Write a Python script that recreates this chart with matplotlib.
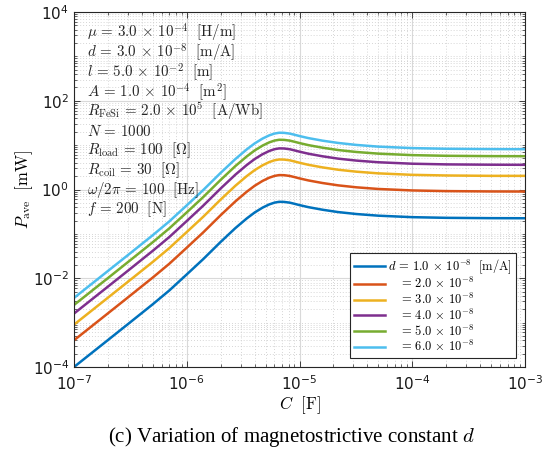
import numpy as np
import matplotlib
matplotlib.use("Agg")
import matplotlib.pyplot as plt
from matplotlib.ticker import LogLocator, NullFormatter, FixedLocator

plt.rcParams['mathtext.fontset'] = 'cm'
plt.rcParams['font.family'] = ['DejaVu Sans']

# Capacitance values [F]
C = [1e-7, 2e-7, 3e-7, 5e-7, 7e-7, 1e-6, 1.4e-6, 2e-6, 2.7e-6, 3.4e-6, 4e-6,
     4.7e-6, 5.4e-6, 6e-6, 6.6e-6, 7.3e-6, 8.2e-6, 9e-6, 1e-5, 1.2e-5, 1.6e-5,
     2.2e-5, 3.2e-5, 5e-5, 1e-4, 2e-4, 5e-4, 1e-3]

# Average power [mW] for each magnetostrictive constant d
P_d1 = [1.0e-4, 4.05e-4, 9.2e-4, 2.6e-3, 5.3e-3, 1.22e-2, 2.7e-2, 6.6e-2, 0.135,
        0.222, 0.303, 0.39, 0.462, 0.506, 0.528, 0.525, 0.505, 0.477, 0.445, 0.40,
        0.35, 0.31, 0.28, 0.257, 0.238, 0.23, 0.226, 0.225]
P_d2 = [4.0e-4, 1.62e-3, 3.68e-3, 1.04e-2, 2.12e-2, 4.88e-2, 0.108, 0.264, 0.54,
        0.888, 1.212, 1.56, 1.848, 2.024, 2.112, 2.10, 2.02, 1.908, 1.78, 1.60,
        1.40, 1.24, 1.12, 1.028, 0.952, 0.92, 0.904, 0.90]
P_d3 = [9.0e-4, 3.65e-3, 8.28e-3, 2.34e-2, 4.77e-2, 0.110, 0.243, 0.594, 1.215,
        1.998, 2.727, 3.51, 4.158, 4.554, 4.752, 4.725, 4.545, 4.293, 4.005, 3.60,
        3.15, 2.79, 2.52, 2.31, 2.14, 2.07, 2.03, 2.03]
P_d4 = [1.6e-3, 6.48e-3, 1.47e-2, 4.16e-2, 8.48e-2, 0.195, 0.432, 1.056, 2.16,
        3.552, 4.848, 6.24, 7.392, 8.096, 8.448, 8.40, 8.08, 7.632, 7.12, 6.40,
        5.60, 4.96, 4.48, 4.11, 3.81, 3.68, 3.62, 3.60]
P_d5 = [2.5e-3, 1.01e-2, 2.3e-2, 6.5e-2, 0.133, 0.305, 0.675, 1.65, 3.375,
        5.55, 7.575, 9.75, 11.55, 12.65, 13.2, 13.125, 12.625, 11.925, 11.125, 10.0,
        8.75, 7.75, 7.0, 6.43, 5.95, 5.75, 5.65, 5.63]
P_d6 = [3.6e-3, 1.46e-2, 3.31e-2, 9.36e-2, 0.191, 0.439, 0.972, 2.376, 4.86,
        7.99, 10.91, 14.04, 16.63, 18.22, 19.01, 18.9, 18.18, 17.17, 16.02, 14.4,
        12.6, 11.2, 10.1, 9.25, 8.57, 8.28, 8.14, 8.1]

series = [P_d1, P_d2, P_d3, P_d4, P_d5, P_d6]
labels = [r'$d\,=\,1.0\,\times\,10^{-8}\ \ \mathrm{[m/A]}$',
          r'$\ \ \ =\,2.0\,\times\,10^{-8}$',
          r'$\ \ \ =\,3.0\,\times\,10^{-8}$',
          r'$\ \ \ =\,4.0\,\times\,10^{-8}$',
          r'$\ \ \ =\,5.0\,\times\,10^{-8}$',
          r'$\ \ \ =\,6.0\,\times\,10^{-8}$']
colors = ['#0072BD', '#D95319', '#EDB120', '#7E2F8E', '#77AC30', '#4DBEEE']

params = [r'$\mu\,=\,3.0\,\times\,10^{-4}\ \ \mathrm{[H/m]}$',
          r'$d\,=\,3.0\,\times\,10^{-8}\ \ \mathrm{[m/A]}$',
          r'$l\,=\,5.0\,\times\,10^{-2}\ \ \mathrm{[m]}$',
          r'$A\,=\,1.0\,\times\,10^{-4}\ \ \mathrm{[m^2]}$',
          r'$R_{\mathrm{FeSi}}\,=\,2.0\,\times\,10^{5}\ \ \mathrm{[A/Wb]}$',
          r'$N\,=\,1000$',
          r'$R_{\mathrm{load}}\,=\,100\ \ [\Omega]$',
          r'$R_{\mathrm{coil}}\,=\,30\ \ [\Omega]$',
          r'$\omega/2\pi\,=\,100\ \ \mathrm{[Hz]}$',
          r'$f\,=\,200\ \ \mathrm{[N]}$']

W, H = 559, 451
fig = plt.figure(figsize=(W / 100, H / 100), dpi=100)
ax = fig.add_axes([74 / W, 1 - 367 / H, (525 - 74) / W, (367 - 12) / H])

for P, lab, col in zip(series, labels, colors):
    ax.plot(C, P, color=col, lw=1.8, label=lab)

ax.set_xscale('log')
ax.set_yscale('log')
ax.set_xlim(1e-7, 1e-3)
ax.set_ylim(1e-4, 1e4)
ax.yaxis.set_major_locator(FixedLocator([1e-4, 1e-2, 1e0, 1e2, 1e4]))
ax.yaxis.set_minor_locator(LogLocator(base=10, subs=np.arange(1, 10), numticks=40))
ax.xaxis.set_minor_locator(LogLocator(base=10, subs=np.arange(2, 10), numticks=40))
ax.yaxis.set_minor_formatter(NullFormatter())
ax.xaxis.set_minor_formatter(NullFormatter())

ax.grid(True, which='major', color='#d9d9d9', lw=0.8, ls='-')
ax.grid(True, which='minor', color='#c8c8c8', lw=0.6, ls=(0, (1, 2.5)))
ax.set_axisbelow(True)
ax.tick_params(which='both', direction='in', top=True, right=True, colors='#262626',
               labelsize=11, labelcolor='#1a1a1a')
ax.tick_params(axis='x', which='major', pad=5)
ax.tick_params(which='major', length=4, width=0.6)
ax.tick_params(which='minor', length=2.5, width=0.5)
for s in ax.spines.values():
    s.set_color('#262626')
    s.set_linewidth(0.8)

ax.set_xlabel(r'$C\ \ \mathrm{[F]}$', fontsize=12, labelpad=1)
ax.set_ylabel(r'$P_{\mathrm{ave}}\ \ \mathrm{[mW]}$', fontsize=12, labelpad=-2)

for i, t in enumerate(params):
    ypx = 33 + i * 19.6
    ax.text(13 / 451, 1 - (ypx - 12) / 355, t, transform=ax.transAxes,
            fontsize=10.8, va='center', ha='left', color='#262626')

leg = ax.legend(loc='lower right', fontsize=9, frameon=True, fancybox=False,
                framealpha=1, edgecolor='#262626', handlelength=2.45,
                labelspacing=0.05, borderaxespad=0.72, handletextpad=0.3,
                borderpad=0.3)
leg.get_frame().set_linewidth(0.8)

fig.text(291 / W, 1 - 437 / H, r'(c) Variation of magnetostrictive constant $d$',
         fontsize=15, family='Liberation Serif', ha='center', va='center')

fig.savefig('out.png', dpi=100)
